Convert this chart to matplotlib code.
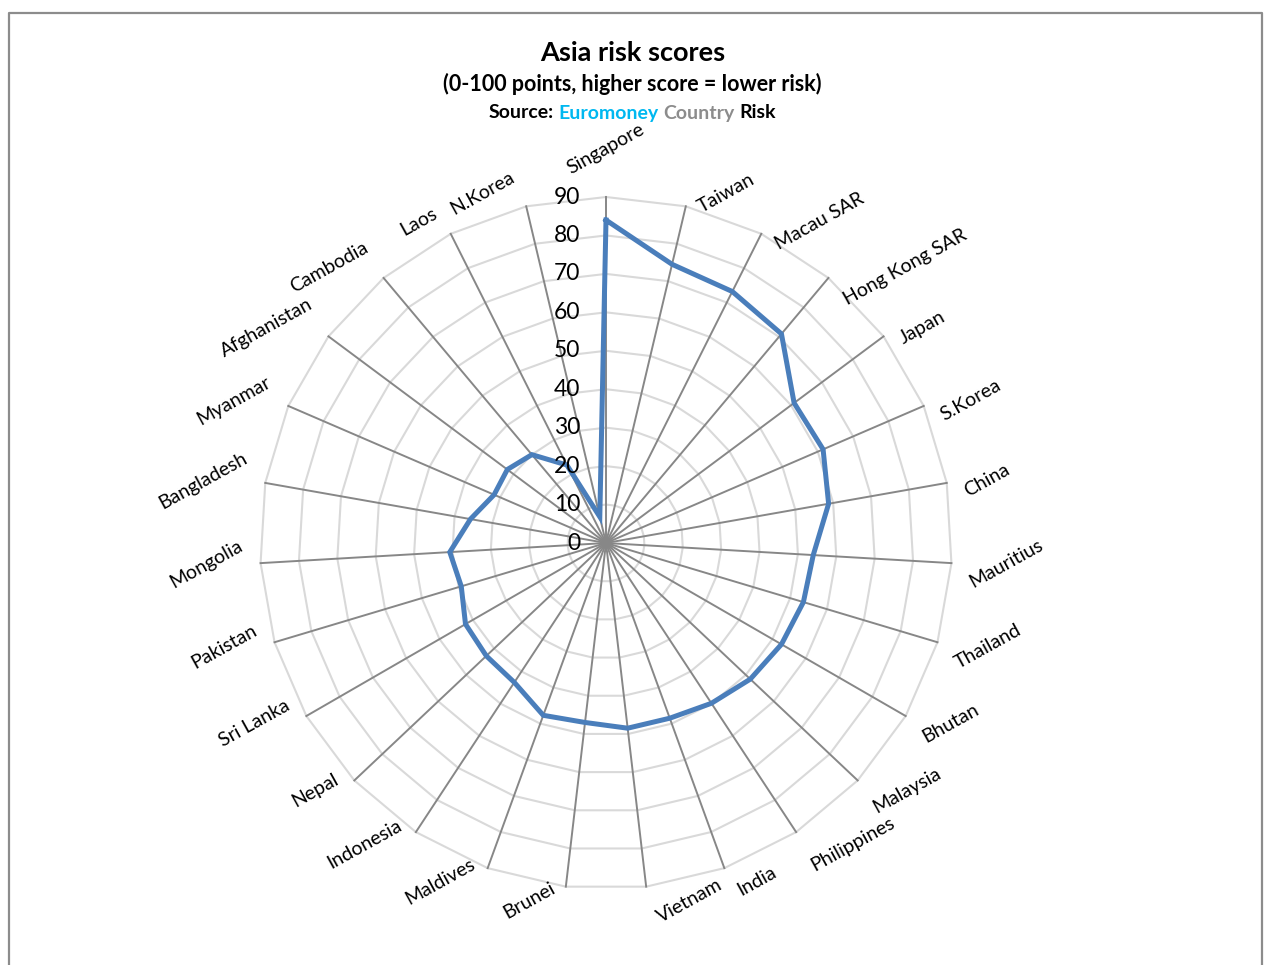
import numpy as np
import matplotlib
matplotlib.use("Agg")
import matplotlib.pyplot as plt
from matplotlib.lines import Line2D

plt.rcParams["font.family"] = ["Lato", "DejaVu Sans"]

# categories clockwise from the top
countries = ["Singapore", "Taiwan", "Macau SAR", "Hong Kong SAR", "Japan", "S.Korea",
             "China", "Mauritius", "Thailand", "Bhutan", "Malaysia", "Philippines",
             "India", "Vietnam", "Brunei", "Maldives", "Indonesia", "Nepal",
             "Sri Lanka", "Pakistan", "Mongolia", "Bangladesh", "Myanmar",
             "Afghanistan", "Cambodia", "Laos", "N.Korea"]
scores = [84, 74.5, 73.2, 71, 61, 61.5,
          58.8, 54, 53.6, 52.7, 51.6, 49.9,
          48.5, 48.5, 47, 47.7, 43.4, 42.8,
          42.2, 39.3, 40.7, 35.8, 31.7,
          32, 30, 22.7, 7]
r_ticks = [0, 10, 20, 30, 40, 50, 60, 70, 80, 90]

W, H = 1265, 965
fig = plt.figure(figsize=(W / 100, H / 100), dpi=100)

# chart frame
fx0, fx1, fy1 = 9 / W, 1262 / W, 1 - 13 / H
fig.add_artist(Line2D([fx0, fx0, fx1, fx1], [0, fy1, fy1, 0],
                      transform=fig.transFigure, color="#8c8c8c", lw=1.6))

# radar area: centre (606, 543), radius 346 px
cx, cy, R = 606, 543, 346
ax = fig.add_axes([(cx - R) / W, (H - cy - R) / H, 2 * R / W, 2 * R / H],
                  projection="polar")
ax.set_theta_zero_location("N")
ax.set_theta_direction(-1)
ax.set_ylim(0, 90)
ax.grid(False)
ax.set_xticks([])
ax.set_yticks([])
ax.spines["polar"].set_visible(False)
ax.patch.set_alpha(0)

n = len(countries)
theta = np.arange(n) * 2 * np.pi / n
theta_closed = np.append(theta, theta[0])

# polygon grid rings
for r in r_ticks[1:]:
    ax.plot(theta_closed, [r] * (n + 1), color="#d9d9d9", lw=1.5, zorder=1,
            clip_on=False)
# spokes
for th in theta:
    ax.plot([th, th], [0, 90], color="#878787", lw=1.4, zorder=2, clip_on=False)

# data
ax.plot(theta_closed, scores + scores[:1], color="#4a7ebb", lw=3.6,
        solid_joinstyle="miter", zorder=3)

# radial tick labels
for r in r_ticks:
    ax.annotate(str(r), xy=(0, r), xytext=(-26, 0), textcoords="offset pixels",
                ha="right", va="center", fontsize=16.5, annotation_clip=False)

fig.canvas.draw()
renderer = fig.canvas.get_renderer()

# category labels, rotated like the original
for th, name in zip(theta, countries):
    ann = ax.annotate(name, xy=(th, 90), xytext=(0, 0), textcoords="offset pixels",
                      rotation=29, rotation_mode="anchor", ha="center", va="center",
                      fontsize=14, annotation_clip=False)
    bb = ann.get_window_extent(renderer)
    s, c = np.sin(th), np.cos(th)
    if abs(s) < 0.01:
        dx, dy = 0, 20 + bb.height / 2
    else:
        gap = 7 + 8 * abs(s)
        dx = np.sign(s) * (gap + bb.width / 2)
        dy = 14 * c
    ann.xyann = (dx, dy)

# titles
fig.text(0.5, 1 - 53 / H, "Asia risk scores", ha="center", va="center",
         fontsize=19.5, fontweight="bold")
fig.text(0.5, 1 - 84 / H, "(0-100 points, higher score = lower risk)",
         ha="center", va="center", fontsize=15.5, fontweight="bold")


def text_width(s, **kw):
    t = fig.text(0, 0, s, **kw)
    w = t.get_window_extent(renderer).width
    t.remove()
    return w


parts = [("Source: ", "black"), ("Euromoney ", "#00b8f0"),
         ("Country ", "#8c8c8c"), ("Risk", "black")]
kw = dict(fontsize=14, fontweight="bold")
full = "".join(p for p, _ in parts)
left = W / 2 - text_width(full, **kw) / 2
wx = text_width("X", **kw)
prefix = ""
for txt, col in parts:
    x = left + (text_width(prefix + "X", **kw) - wx if prefix else 0)
    fig.text(x / W, 1 - 113 / H, txt.strip(), ha="left", va="center",
             color=col, **kw)
    prefix += txt

fig.savefig("out.png", dpi=100)
